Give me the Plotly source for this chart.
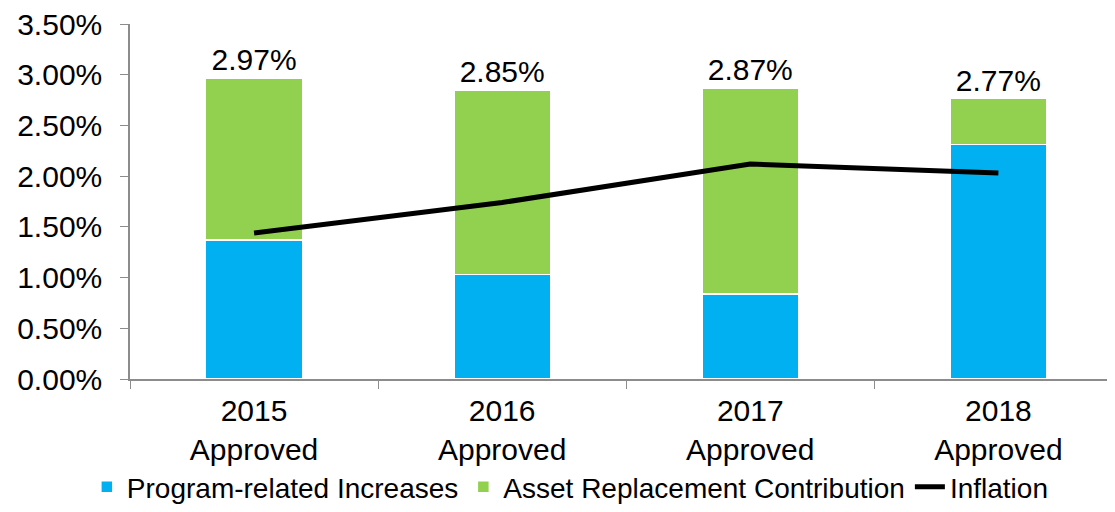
import plotly.graph_objects as go

categories = ["2015<br>Approved", "2016<br>Approved", "2017<br>Approved", "2018<br>Approved"]
program_related = [1.37, 1.03, 0.84, 2.31]
asset_replacement = [1.60, 1.82, 2.03, 0.46]
totals = [2.97, 2.85, 2.87, 2.77]
inflation = [1.44, 1.74, 2.12, 2.03]
total_labels = ["2.97%", "2.85%", "2.87%", "2.77%"]
y_ticks = [0, 0.5, 1.0, 1.5, 2.0, 2.5, 3.0, 3.5]
y_tick_labels = ["0.00%", "0.50%", "1.00%", "1.50%", "2.00%", "2.50%", "3.00%", "3.50%"]

FONT = "Liberation Sans, Arial, sans-serif"

fig = go.Figure()
fig.add_trace(go.Bar(x=categories, y=program_related, name="Program-related Increases",
                     marker=dict(color="#00B0F0", line=dict(color="white", width=1.5)),
                     width=0.39))
fig.add_trace(go.Bar(x=categories, y=asset_replacement, name="Asset Replacement Contribution",
                     marker=dict(color="#92D050", line=dict(color="white", width=1.5)),
                     width=0.39))
fig.add_trace(go.Scatter(x=categories, y=inflation, name="Inflation", mode="lines",
                         line=dict(color="black", width=5)))
fig.add_trace(go.Scatter(x=categories, y=totals, mode="text", text=total_labels,
                         textposition="top center", showlegend=False,
                         textfont=dict(size=30, color="black", family=FONT),
                         hoverinfo="skip"))

fig.update_layout(
    width=1107, height=504,
    barmode="stack",
    plot_bgcolor="white", paper_bgcolor="white",
    margin=dict(l=122, r=0, t=16, b=133, autoexpand=False),
    font=dict(family=FONT, color="black", size=30),
    showlegend=True,
    legend=dict(orientation="h", xref="container", yref="container",
                x=0.508, xanchor="center", y=-0.014, yanchor="bottom",
                bgcolor="rgba(0,0,0,0)",
                font=dict(size=28, family=FONT), traceorder="normal",
                itemwidth=30, tracegroupgap=0),
    xaxis=dict(range=[-0.5, 3.47], showline=True, linecolor="#8c8c8c", linewidth=1.5,
               ticks="outside", tickson="boundaries", ticklen=8, tickcolor="#8c8c8c",
               tickfont=dict(size=30), showgrid=False, ticklabelstandoff=4,
               automargin=False),
    yaxis=dict(range=[0, 3.5001], tickvals=y_ticks, ticktext=y_tick_labels,
               showline=True, linecolor="#8c8c8c", linewidth=1.5,
               ticks="outside", ticklen=8, tickcolor="#8c8c8c",
               tickfont=dict(size=30), showgrid=False, zeroline=False,
               ticklabelstandoff=12, automargin=False, ticklabeloverflow="allow"),
)

fig.write_html("out.html")
